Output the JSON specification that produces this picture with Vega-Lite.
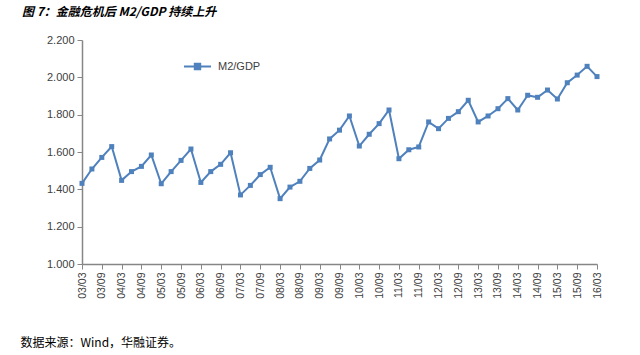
{
  "$schema": "https://vega.github.io/schema/vega-lite/v6.json",
  "width": 515,
  "height": 224,
  "autosize": {"type": "none"},
  "padding": {"left": 82, "top": 40, "right": 43, "bottom": 91},
  "background": "white",
  "title": {
    "text": "图 7：金融危机后 M2/GDP 持续上升",
    "anchor": "start",
    "frame": "group",
    "dx": -60,
    "offset": 15,
    "font": "Noto Sans CJK SC",
    "fontSize": 12,
    "fontStyle": "italic",
    "fontWeight": "bold",
    "color": "#000000"
  },
  "data": {
    "values": [
      {"q": "03/03", "v": 1.432}, {"q": "03/06", "v": 1.509}, {"q": "03/09", "v": 1.571}, {"q": "03/12", "v": 1.629},
      {"q": "04/03", "v": 1.448}, {"q": "04/06", "v": 1.495}, {"q": "04/09", "v": 1.523}, {"q": "04/12", "v": 1.584},
      {"q": "05/03", "v": 1.430}, {"q": "05/06", "v": 1.495}, {"q": "05/09", "v": 1.555}, {"q": "05/12", "v": 1.616},
      {"q": "06/03", "v": 1.437}, {"q": "06/06", "v": 1.495}, {"q": "06/09", "v": 1.534}, {"q": "06/12", "v": 1.596},
      {"q": "07/03", "v": 1.370}, {"q": "07/06", "v": 1.421}, {"q": "07/09", "v": 1.479}, {"q": "07/12", "v": 1.518},
      {"q": "08/03", "v": 1.350}, {"q": "08/06", "v": 1.412}, {"q": "08/09", "v": 1.443}, {"q": "08/12", "v": 1.512},
      {"q": "09/03", "v": 1.557}, {"q": "09/06", "v": 1.670}, {"q": "09/09", "v": 1.717}, {"q": "09/12", "v": 1.793},
      {"q": "10/03", "v": 1.632}, {"q": "10/06", "v": 1.695}, {"q": "10/09", "v": 1.752}, {"q": "10/12", "v": 1.825},
      {"q": "11/03", "v": 1.564}, {"q": "11/06", "v": 1.612}, {"q": "11/09", "v": 1.627}, {"q": "11/12", "v": 1.761},
      {"q": "12/03", "v": 1.725}, {"q": "12/06", "v": 1.780}, {"q": "12/09", "v": 1.816}, {"q": "12/12", "v": 1.877},
      {"q": "13/03", "v": 1.761}, {"q": "13/06", "v": 1.793}, {"q": "13/09", "v": 1.832}, {"q": "13/12", "v": 1.886},
      {"q": "14/03", "v": 1.825}, {"q": "14/06", "v": 1.904}, {"q": "14/09", "v": 1.893}, {"q": "14/12", "v": 1.932},
      {"q": "15/03", "v": 1.884}, {"q": "15/06", "v": 1.971}, {"q": "15/09", "v": 2.012}, {"q": "15/12", "v": 2.059},
      {"q": "16/03", "v": 2.004}
    ]
  },
  "encoding": {
    "x": {
      "field": "q",
      "type": "ordinal",
      "sort": null,
      "scale": {"type": "point", "padding": 0},
      "axis": {
        "values": ["03/03","03/09","04/03","04/09","05/03","05/09","06/03","06/09","07/03","07/09","08/03","08/09","09/03","09/09","10/03","10/09","11/03","11/09","12/03","12/09","13/03","13/09","14/03","14/09","15/03","15/09","16/03"],
        "labelAngle": -90,
        "labelFont": "Liberation Sans",
        "labelFontSize": 10.5,
        "labelColor": "#404040",
        "labelPadding": 3,
        "domainColor": "#868686",
        "domainWidth": 1.5,
        "tickColor": "#868686",
        "tickSize": 5,
        "grid": false,
        "title": "数据来源：Wind，华融证券。",
        "titleFont": "Noto Sans CJK SC",
        "titleFontSize": 12,
        "titleFontWeight": "normal",
        "titleColor": "#000000",
        "titleAnchor": "start",
        "titleAlign": "left",
        "titleX": -62,
        "titleY": 73
      }
    },
    "y": {
      "field": "v",
      "type": "quantitative",
      "scale": {"domain": [1.0, 2.2], "nice": false, "zero": false},
      "axis": {
        "values": [1.0, 1.2, 1.4, 1.6, 1.8, 2.0, 2.2],
        "format": ".3f",
        "labelFont": "Liberation Sans",
        "labelFontSize": 11,
        "labelColor": "#404040",
        "labelPadding": 3,
        "domainColor": "#868686",
        "domainWidth": 1.5,
        "tickColor": "#868686",
        "tickSize": 5,
        "grid": false,
        "title": null
      }
    },
    "color": {
      "datum": "M2/GDP",
      "type": "nominal",
      "scale": {"range": ["#4F81BD"]},
      "legend": {
        "title": null,
        "orient": "none",
        "legendX": 101,
        "legendY": 12,
        "symbolType": "M-1,0L1,0M-0.2,-0.2L0.2,-0.2L0.2,0.2L-0.2,0.2Z",
        "symbolSize": 729,
        "symbolStrokeWidth": 2,
        "labelFont": "Liberation Sans",
        "labelFontSize": 11,
        "labelColor": "#404040",
        "labelOffset": 6,
        "encode": {"symbols": {"update": {"fill": {"value": "#4F81BD"}, "stroke": {"value": "#4F81BD"}}}}
      }
    }
  },
  "layer": [
    {"mark": {"type": "line", "strokeWidth": 2}},
    {"mark": {"type": "point", "shape": "square", "filled": true, "size": 25, "opacity": 1}}
  ],
  "config": {"view": {"stroke": null}}
}
